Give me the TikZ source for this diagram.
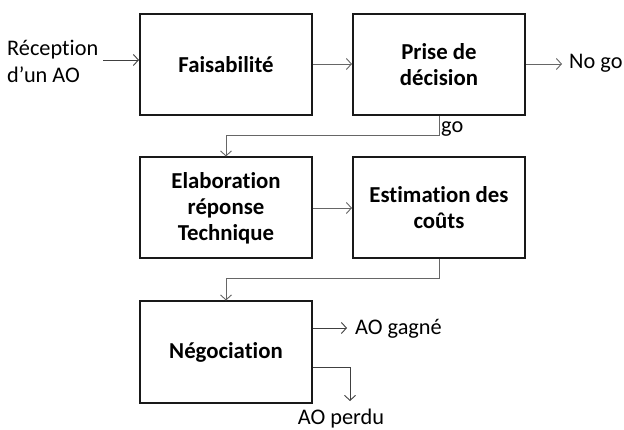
\documentclass[tikz,border=0pt]{standalone}
\usepackage{fontspec}
\setmainfont{Carlito}[Ligatures={NoCommon}]
\usetikzlibrary{arrows.meta}
\begin{document}
\begin{tikzpicture}[x=1pt,y=-1pt,
  procbox/.style={draw=black!90,line width=2pt,minimum width=172pt,minimum height=101pt,
    align=center,inner sep=0pt,font=\fontsize{22.8}{26}\selectfont\bfseries},
  lbl/.style={inner sep=0pt,font=\fontsize{22.3}{27}\selectfont},
  conn/.style={draw=black!60,line width=0.9pt,-{Straight Barb[length=5pt,width=11pt,line width=0.9pt]}},
  connin/.style={draw=black!75,line width=0.9pt,-{Straight Barb[length=5pt,width=11pt,line width=0.9pt]}}]
\useasboundingbox (0,0) rectangle (624,430);
\node[procbox] (f) at (226,64.5) {Faisabilité};
\node[procbox] (p) at (439,64.5) {Prise de\\décision};
\node[procbox] (e) at (226,208) {Elaboration\\réponse\\Technique};
\node[procbox] (s) at (439,208) {Estimation des\\coûts};
\node[procbox] (n) at (226,352) {Négociation};
\node[lbl,anchor=west,align=left] (rec) at (7,61) {Réception\\d’un AO};
\node[lbl,anchor=west] (nogo) at (569,63) {No go};
\node[lbl,anchor=west] (go) at (441,129) {go};
\node[lbl,anchor=west] (gagne) at (355,329) {AO gagné};
\node[lbl] (perdu) at (341,419) {AO perdu};
\coordinate (inS) at (103,60);
\coordinate (nogoE) at (562,64);
\coordinate (gagneE) at (347,328);
\coordinate (perduC) at (350,367);
\coordinate (perduE) at (350,401);
\draw[connin] (inS) -- (inS -| f.west);
\draw[conn] (f.east |- 0,64) -- (p.west |- 0,64);
\draw[conn] (p.east |- 0,64) -- (nogoE);
\draw[conn] (p.south) -- ++(0,19) -| (e.north);
\draw[conn] (e.east) -- (s.west);
\draw[conn] (s.south) -- ++(0,19) -| (n.north);
\draw[connin] (n.east |- gagneE) -- (gagneE);
\draw[connin] (n.east |- perduC) -- (perduC) -- (perduE);
\end{tikzpicture}
\end{document}
